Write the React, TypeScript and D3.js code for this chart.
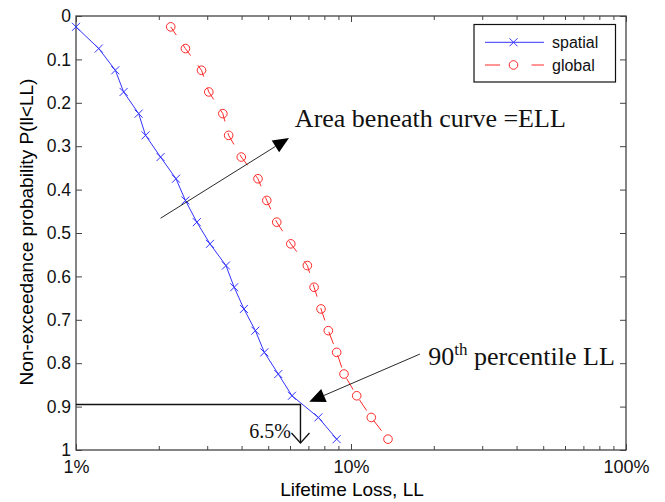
import * as d3 from "d3";
import { useEffect, useRef } from "react";

// non-exceedance probability levels (y) shared by both curves
const probs = [0.025, 0.075, 0.125, 0.175, 0.225, 0.275, 0.325, 0.375, 0.425, 0.475,
  0.525, 0.575, 0.625, 0.675, 0.725, 0.775, 0.825, 0.875, 0.925, 0.975];

// lifetime loss in %
const spatialLL = [1.0, 1.21, 1.39, 1.49, 1.69, 1.79, 2.03, 2.31, 2.5, 2.75,
  3.07, 3.51, 3.76, 4.08, 4.49, 4.84, 5.44, 6.1, 7.61, 8.87];
const globalLL = [2.21, 2.5, 2.86, 3.04, 3.42, 3.59, 3.99, 4.59, 4.94, 5.37,
  6.04, 6.94, 7.34, 7.78, 8.27, 8.87, 9.43, 10.49, 11.85, 13.63];

const seriesNames = ["spatial", "global"];

const xTickValues = [1, 10, 100];
const xTickLabels = ["1%", "10%", "100%"];
const xMinorValues = [2, 3, 4, 5, 6, 7, 8, 9, 20, 30, 40, 50, 60, 70, 80, 90];
const yTickValues = [0, 0.1, 0.2, 0.3, 0.4, 0.5, 0.6, 0.7, 0.8, 0.9, 1];
const yTickLabels = ["0", "0.1", "0.2", "0.3", "0.4", "0.5", "0.6", "0.7", "0.8", "0.9", "1"];

// annotations, in data units [LL %, probability]
const ellArrow = [[2.03, 0.466], [5.95, 0.281]];
const ellText = [6.25, 0.256];
const p90Arrow = [[17.8, 0.779], [7.05, 0.889]];
const p90Text = [19.1, 0.803];
const p90Level = 0.895;
const p90LL = 6.55;
const p90Label = [4.27, 0.973];

const width = 665;
const height = 502;
const left = 76, right = 626, top = 16, bottom = 450;

const sans = "'Liberation Sans', Arial, Helvetica, sans-serif";
const serif = "'Liberation Serif', 'Times New Roman', serif";
const blue = "#3333ff";
const red = "#ff2a2a";
const axisGrey = "#444";

export default function App() {
  const ref = useRef(null);

  useEffect(() => {
    const svg = d3.select(ref.current);
    svg.selectAll("*").remove();

    const x = d3.scaleLog().domain([1, 100]).range([left, right]);
    const y = d3.scaleLinear().domain([0, 1]).range([top, bottom]);

    // frame
    svg.append("rect")
      .attr("x", left).attr("y", top)
      .attr("width", right - left).attr("height", bottom - top)
      .attr("fill", "none").attr("stroke", axisGrey).attr("stroke-width", 1.3);

    const styleAxis = (g) => {
      g.select(".domain").remove();
      g.selectAll("line").attr("stroke", axisGrey);
      g.selectAll("text").attr("fill", "#111");
    };

    // bottom axis
    svg.append("g").attr("transform", `translate(0,${bottom})`)
      .call(d3.axisBottom(x).tickValues(xTickValues).tickSize(-6).tickPadding(10)
        .tickFormat((d, i) => xTickLabels[i]))
      .attr("font-family", sans).attr("font-size", 18)
      .call(styleAxis);
    svg.append("g").attr("transform", `translate(0,${bottom})`)
      .call(d3.axisBottom(x).tickValues(xMinorValues).tickSize(-4).tickFormat(() => ""))
      .call(styleAxis);
    // top axis
    svg.append("g").attr("transform", `translate(0,${top})`)
      .call(d3.axisTop(x).tickValues(xTickValues).tickSize(-6).tickFormat(() => ""))
      .call(styleAxis);
    svg.append("g").attr("transform", `translate(0,${top})`)
      .call(d3.axisTop(x).tickValues(xMinorValues).tickSize(-4).tickFormat(() => ""))
      .call(styleAxis);
    // left / right axes
    svg.append("g").attr("transform", `translate(${left},0)`)
      .call(d3.axisLeft(y).tickValues(yTickValues).tickSize(-6).tickPadding(5)
        .tickFormat((d, i) => yTickLabels[i]))
      .attr("font-family", sans).attr("font-size", 17.5)
      .call(styleAxis);
    svg.append("g").attr("transform", `translate(${right},0)`)
      .call(d3.axisRight(y).tickValues(yTickValues).tickSize(-6).tickFormat(() => ""))
      .call(styleAxis);

    // axis titles
    svg.append("text")
      .attr("x", (left + right) / 2 + 1).attr("y", 496)
      .attr("text-anchor", "middle")
      .attr("font-family", sans).attr("font-size", 19)
      .text("Lifetime Loss, LL");
    svg.append("text")
      .attr("transform", `translate(33,${232}) rotate(-90)`)
      .attr("text-anchor", "middle")
      .attr("font-family", sans).attr("font-size", 19)
      .text("Non-exceedance probability P(ll<LL)");

    // curves
    const line = d3.line().x(d => x(d[0])).y(d => y(d[1]));
    const spatial = spatialLL.map((v, i) => [v, probs[i]]);
    const global = globalLL.map((v, i) => [v, probs[i]]);

    svg.append("path")
      .attr("d", line(spatial))
      .attr("fill", "none").attr("stroke", blue).attr("stroke-width", 1);

    const cross = (g, cx, cy, s) => {
      g.append("path")
        .attr("d", `M${cx - s},${cy - s}L${cx + s},${cy + s}M${cx - s},${cy + s}L${cx + s},${cy - s}`)
        .attr("stroke", blue).attr("stroke-width", 1).attr("fill", "none");
    };
    const crosses = svg.append("g");
    spatial.forEach(d => cross(crosses, x(d[0]), y(d[1]), 4));

    svg.append("path")
      .attr("d", line(global))
      .attr("fill", "none").attr("stroke", red).attr("stroke-width", 1)
      .attr("stroke-dasharray", "13,12").attr("stroke-dashoffset", 3);
    svg.append("g").selectAll("circle")
      .data(global)
      .join("circle")
      .attr("cx", d => x(d[0])).attr("cy", d => y(d[1])).attr("r", 4.3)
      .attr("fill", "none").attr("stroke", red).attr("stroke-width", 1);

    // 90th percentile guide
    svg.append("path")
      .attr("d", `M${left},${y(p90Level)}H${x(p90LL)}V${bottom - 7}`)
      .attr("fill", "none").attr("stroke", "#111").attr("stroke-width", 1.4);
    const vx = x(p90LL), vy = bottom - 7;
    svg.append("path")
      .attr("d", `M${vx - 9},${vy - 10}L${vx},${vy}L${vx + 9},${vy - 10}`)
      .attr("fill", "none").attr("stroke", "#111").attr("stroke-width", 1.3);

    // filled arrows
    const arrow = (pts) => {
      const [x0, y0] = [x(pts[0][0]), y(pts[0][1])];
      const [x1, y1] = [x(pts[1][0]), y(pts[1][1])];
      const a = Math.atan2(y1 - y0, x1 - x0);
      const L = 16, w = 7;
      const bx = x1 - L * Math.cos(a), by = y1 - L * Math.sin(a);
      svg.append("line")
        .attr("x1", x0).attr("y1", y0).attr("x2", bx).attr("y2", by)
        .attr("stroke", "#111").attr("stroke-width", 0.9);
      svg.append("path")
        .attr("d", `M${x1},${y1}L${bx + w * Math.sin(a)},${by - w * Math.cos(a)}L${bx - w * Math.sin(a)},${by + w * Math.cos(a)}Z`)
        .attr("fill", "#000");
    };
    arrow(ellArrow);
    arrow(p90Arrow);

    svg.append("text")
      .attr("x", x(ellText[0])).attr("y", y(ellText[1]))
      .attr("font-family", serif).attr("font-size", 26).attr("fill", "#111")
      .text("Area beneath curve =ELL");

    const t90 = svg.append("text")
      .attr("x", x(p90Text[0])).attr("y", y(p90Text[1]))
      .attr("font-family", serif).attr("font-size", 26).attr("fill", "#111");
    t90.append("tspan").text("90");
    t90.append("tspan").attr("font-size", 17).attr("dy", -10).text("th");
    t90.append("tspan").attr("dy", 10).text(" percentile LL");

    svg.append("text")
      .attr("x", x(p90Label[0])).attr("y", y(p90Label[1]))
      .attr("font-family", serif).attr("font-size", 20).attr("fill", "#111")
      .text("6.5%");

    // legend
    const lg = svg.append("g");
    lg.append("rect")
      .attr("x", 474).attr("y", 24.5).attr("width", 141.5).attr("height", 57.5)
      .attr("fill", "#fff").attr("stroke", "#111").attr("stroke-width", 1.2);
    const ly = [42.3, 65];
    lg.append("line").attr("x1", 485).attr("x2", 544).attr("y1", ly[0]).attr("y2", ly[0])
      .attr("stroke", blue).attr("stroke-width", 1);
    cross(lg, 513.5, ly[0], 4);
    lg.append("line").attr("x1", 485).attr("x2", 544).attr("y1", ly[1]).attr("y2", ly[1])
      .attr("stroke", red).attr("stroke-width", 1).attr("stroke-dasharray", "15,31.5");
    lg.append("circle").attr("cx", 513.5).attr("cy", ly[1]).attr("r", 4.3)
      .attr("fill", "none").attr("stroke", red).attr("stroke-width", 1);
    lg.selectAll("text.lab")
      .data(seriesNames)
      .join("text")
      .attr("class", "lab")
      .attr("x", 552).attr("y", (d, i) => ly[i] + 5.5)
      .attr("font-family", sans).attr("font-size", 16).attr("fill", "#111")
      .text(d => d);
  }, []);

  return (
    <div style={{ position: "absolute", left: 0, top: 0, background: "#fff" }}>
      <svg ref={ref} width={width} height={height} style={{ display: "block" }} />
    </div>
  );
}
